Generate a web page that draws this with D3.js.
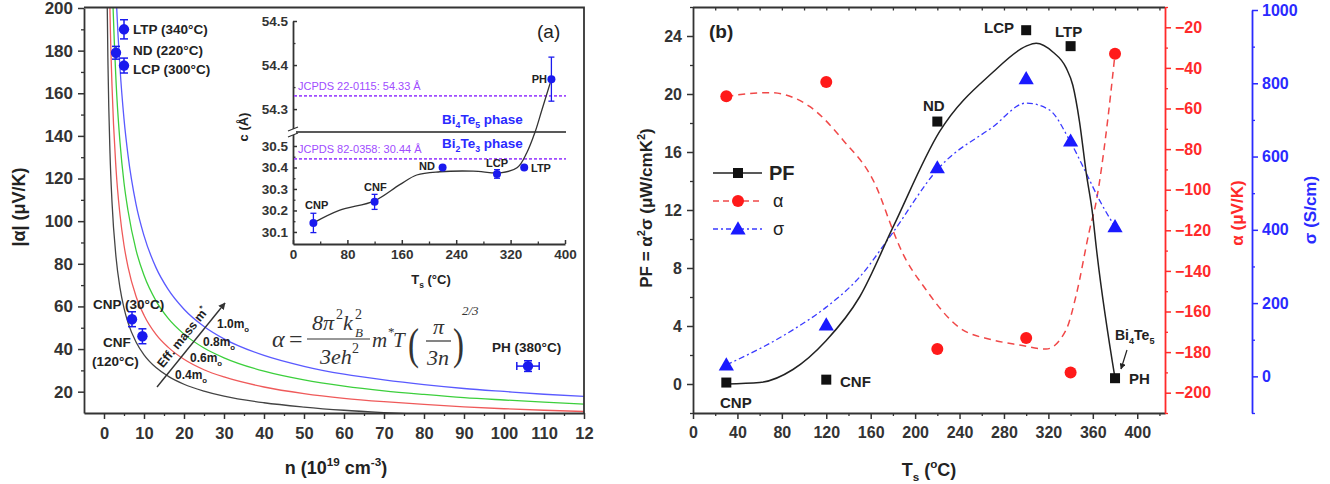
<!DOCTYPE html>
<html>
<head>
<meta charset="utf-8">
<script src="https://cdn.jsdelivr.net/npm/d3@7"></script>
<style>
  body { margin: 0; background: #fff; }
</style>
</head>
<body>
<div id="chart"></div>
<script>
// ---------- panel (a): Seebeck vs carrier concentration ----------
const nGrid = [0.5, 0.75, 1, 1.5, 2, 3, 4, 5, 6, 8, 10, 13, 16, 20, 25, 30, 40, 50, 60, 70, 80, 90, 100, 110, 120];
const alphaM04 = [275, 210, 173, 132, 109, 83.2, 68.7, 59.2, 52.4, 43.3, 37.3, 31.3, 27.3, 23.5, 20.3, 17.9, 14.8, 12.8, 11.3, 10.2, 9.3, 8.6, 8.0, 7.5, 7.1];
const alphaM06 = [412, 314, 260, 198, 163.5, 124.7, 103, 88.7, 78.6, 64.8, 55.9, 46.9, 40.9, 35.2, 30.3, 26.9, 22.2, 19.1, 16.9, 15.3, 14.0, 12.9, 12.0, 11.3, 10.7];
const alphaM08 = [550, 420, 346, 264, 218, 166, 137, 118, 105, 86.5, 74.6, 62.6, 54.5, 47.0, 40.5, 35.9, 29.6, 25.5, 22.6, 20.4, 18.7, 17.2, 16.1, 15.1, 14.2];
const alphaM10 = [687, 524, 433, 330, 273, 208, 172, 148, 131, 108, 93.2, 78.2, 68.1, 58.7, 50.6, 44.8, 37.0, 31.9, 28.2, 25.5, 23.3, 21.5, 20.1, 18.8, 17.8];
const massNames = ["0.4m", "0.6m", "0.8m", "1.0m"];

const samples = ["CNP", "CNF", "ND", "LCP", "LTP", "PH"];
const nSample = [7, 9.6, 3, 5, 5, 106];
const nSampleErr = [0, 0, 0, 0, 0, 2.8];
const alphaAbs = [54, 46, 179, 173, 190, 32];
const alphaAbsErr = [3.5, 3.5, 3, 3.5, 4.5, 2.5];

const nTicks = [0, 10, 20, 30, 40, 50, 60, 70, 80, 90, 100, 110, 120];
const nTickLabels = ["0", "10", "20", "30", "40", "50", "60", "70", "80", "90", "100", "110", "12"];
const alphaTicks = [20, 40, 60, 80, 100, 120, 140, 160, 180, 200];

// inset: c lattice parameter vs Ts
const insetTemps = [30, 120, 220, 300, 340, 380];
const cValues = [30.142, 30.24, 30.40, 30.37, 30.40, 54.368];
const cErr = [0.045, 0.035, 0.006, 0.02, 0.006, 0.05];
const cFitT = [30, 68, 120, 157, 182, 216, 265, 305, 330, 344, 356, 366, 380];
const cFitC = [30.142, 30.20, 30.245, 30.32, 30.365, 30.38, 30.383, 30.375, 30.40, 30.47, 30.565, 54.298, 54.368];
const jcpdsUpper = 54.33, jcpdsLower = 30.44;
const insetXTicks = [0, 80, 160, 240, 320, 400];
const insetLowTicks = [30.1, 30.2, 30.3, 30.4, 30.5];
const insetUpTicks = [54.3, 54.4, 54.5];

// ---------- panel (b): PF, alpha, sigma vs Ts ----------
const temps = [30, 120, 220, 300, 340, 380];
const pfValues = [0.1, 0.3, 18.1, 24.4, 23.3, 0.4];
const seebeck = [-54, -47, -178.5, -173, -190, -33];
const sigma = [31, 140, 569, 812, 642, 408];
const pfFitT = [30, 60, 90, 120, 150, 180, 222, 270, 300, 309, 324, 336, 342, 348, 354, 360, 363, 380];
const pfFit = [0, 0.1, 1.0, 3.0, 6.0, 10.8, 17.4, 21.5, 23.3, 23.5, 22.9, 21.8, 20.6, 18.1, 14.6, 11.6, 9.5, 0.4];
const seebeckFitT = [30, 69, 105, 135, 165, 180, 186, 210, 240, 270, 294, 318, 336, 345, 357, 363, 372, 380];
const seebeckFit = [-54, -52.2, -59, -75.5, -98.5, -120, -128, -149.4, -168, -174, -176.5, -178.5, -169, -152, -120, -106, -72, -33];
const sigmaFitT = [30, 90, 120, 150, 177, 222, 270, 300, 321, 339, 354, 366, 380];
const sigmaFit = [31, 127, 189, 271, 380, 571, 681, 746, 727, 645, 555, 481, 408];
const tsTicks = [0, 40, 80, 120, 160, 200, 240, 280, 320, 360, 400];
const pfTicks = [0, 4, 8, 12, 16, 20, 24];
const seebeckTicks = [-200, -180, -160, -140, -120, -100, -80, -60, -40, -20];
const sigmaTicks = [0, 200, 400, 600, 800, 1000];

const FONT = '"Liberation Sans", Arial, Helvetica, sans-serif';
const SERIF = '"Liberation Serif", "Times New Roman", serif';
const AX = "#333";
const RED = "#ff2a2a";
const BLUE = "#2a2aff";

const svg = d3.select("#chart").append("svg")
  .attr("width", 1330).attr("height", 484)
  .style("font-family", FONT);

// rich text: "T_{s} (^{o}C)"
function rich(g, x, y, spec, size, opts = {}) {
  const t = g.append("text")
    .attr("x", x).attr("y", y)
    .attr("font-size", size)
    .attr("font-weight", opts.weight || "bold")
    .attr("fill", opts.fill || "#222")
    .attr("text-anchor", opts.anchor || "start");
  if (opts.transform) t.attr("transform", opts.transform);
  if (opts.family) t.attr("font-family", opts.family);
  if (opts.italic) t.attr("font-style", "italic");
  let off = 0;
  spec.split(/(_\{[^}]*\}|\^\{[^}]*\})/).filter(s => s.length).forEach(p => {
    let kind = "n", txt = p;
    if (p.startsWith("_{")) { kind = "sub"; txt = p.slice(2, -1); }
    if (p.startsWith("^{")) { kind = "sup"; txt = p.slice(2, -1); }
    const target = kind === "sub" ? size * 0.3 : kind === "sup" ? -size * 0.42 : 0;
    t.append("tspan")
      .attr("dy", target - off)
      .attr("font-size", kind === "n" ? size : size * 0.65)
      .text(txt);
    off = target;
  });
  return t;
}

function styleAxis(g, color, size) {
  g.attr("font-family", FONT).attr("font-size", size).attr("font-weight", "bold");
  g.selectAll("path.domain").attr("stroke", color).attr("stroke-width", 1.8);
  g.selectAll(".tick line").attr("stroke", color).attr("stroke-width", 1.5);
  g.selectAll(".tick text").attr("fill", color);
}
function minor(g, color) {
  g.select("path.domain").remove();
  g.selectAll(".tick line").attr("stroke", color).attr("stroke-width", 1.3);
  g.selectAll(".tick text").remove();
}

// =================== PANEL (a) ===================
const xa = d3.scaleLinear().domain([-5, 120]).range([84, 584]);
const ya = d3.scaleLinear().domain([10, 200]).range([413, 8]);

svg.append("clipPath").attr("id", "clipA").append("rect")
  .attr("x", 84).attr("y", 8).attr("width", 500).attr("height", 405);

// theory curves
const massColors = ["#444", "#ef5a5a", "#3ccf3c", "#5a5aff"];
[alphaM04, alphaM06, alphaM08, alphaM10].forEach((vals, i) => {
  svg.append("path")
    .datum(nGrid.map((n, j) => [n, vals[j]]))
    .attr("clip-path", "url(#clipA)")
    .attr("fill", "none")
    .attr("stroke", massColors[i])
    .attr("stroke-width", 1.3)
    .attr("d", d3.line().x(d => xa(d[0])).y(d => ya(d[1])).curve(d3.curveMonotoneX));
});

// axes
let g = svg.append("g").attr("transform", "translate(0,413)")
  .call(d3.axisBottom(xa).tickValues(nTicks).tickFormat((d, i) => nTickLabels[i]).tickSize(6).tickSizeOuter(0).tickPadding(8));
styleAxis(g, AX, 16.5);
g = svg.append("g").attr("transform", "translate(0,413)")
  .call(d3.axisBottom(xa).tickValues(d3.range(5, 120, 10)).tickSize(3));
minor(g, AX);
g = svg.append("g").attr("transform", "translate(84,0)")
  .call(d3.axisLeft(ya).tickValues(alphaTicks).tickSize(6).tickSizeOuter(0).tickPadding(5));
styleAxis(g, AX, 17);
g = svg.append("g").attr("transform", "translate(84,0)")
  .call(d3.axisLeft(ya).tickValues(d3.range(30, 200, 20)).tickSize(3));
minor(g, AX);
// frame
svg.append("path").attr("d", `M84,7.5H584V413`).attr("fill", "none").attr("stroke", AX).attr("stroke-width", 1.8);

// axis titles
rich(svg, 0, 0, "|α| (μV/K)", 18, { anchor: "middle", transform: "translate(25,207) rotate(-90)" });
rich(svg, 336, 474, "n (10^{19} cm^{-3})", 18, { anchor: "middle" });

// sample points
const pts = samples.map((s, i) => ({ n: nSample[i], a: alphaAbs[i], ne: nSampleErr[i], ae: alphaAbsErr[i] }));
const ptG = svg.append("g").attr("stroke", "#1a1aee").attr("stroke-width", 1.5);
pts.forEach(p => {
  const cx = xa(p.n), cy = ya(p.a);
  const y1 = ya(p.a + p.ae), y2 = ya(p.a - p.ae);
  ptG.append("line").attr("x1", cx).attr("x2", cx).attr("y1", y1).attr("y2", y2);
  ptG.append("line").attr("x1", cx - 4).attr("x2", cx + 4).attr("y1", y1).attr("y2", y1);
  ptG.append("line").attr("x1", cx - 4).attr("x2", cx + 4).attr("y1", y2).attr("y2", y2);
  if (p.ne > 0) {
    const x1 = xa(p.n - p.ne), x2 = xa(p.n + p.ne);
    ptG.append("line").attr("x1", x1).attr("x2", x2).attr("y1", cy).attr("y2", cy);
    ptG.append("line").attr("x1", x1).attr("x2", x1).attr("y1", cy - 4).attr("y2", cy + 4);
    ptG.append("line").attr("x1", x2).attr("x2", x2).attr("y1", cy - 4).attr("y2", cy + 4);
  }
  svg.append("circle").attr("cx", cx).attr("cy", cy).attr("r", 5.2).attr("fill", "#1a1aee");
});

// sample labels
rich(svg, 133, 34, "LTP (340°C)", 13.5);
rich(svg, 133, 55, "ND (220°C)", 13.5);
rich(svg, 133, 74, "LCP (300°C)", 13.5);
rich(svg, 93, 309, "CNP (30°C)", 13.5);
rich(svg, 103, 347, "CNF", 13.5);
rich(svg, 92, 366, "(120°C)", 13.5);
rich(svg, 492, 352, "PH (380°C)", 13.5);

// effective mass arrow
const defs = svg.append("defs");
defs.append("marker").attr("id", "arrowHead").attr("viewBox", "0 0 10 10")
  .attr("refX", 9).attr("refY", 5).attr("markerWidth", 7).attr("markerHeight", 7)
  .attr("orient", "auto-start-reverse").attr("markerUnits", "userSpaceOnUse")
  .append("path").attr("d", "M0,0L10,5L0,10z").attr("fill", "#333");
defs.append("marker").attr("id", "arrowSmall").attr("viewBox", "0 0 10 10")
  .attr("refX", 9).attr("refY", 5).attr("markerWidth", 6).attr("markerHeight", 6)
  .attr("orient", "auto").attr("markerUnits", "userSpaceOnUse")
  .append("path").attr("d", "M0,0L10,5L0,10z").attr("fill", "#222");
svg.append("line").attr("x1", 157).attr("y1", 387).attr("x2", 225).attr("y2", 303)
  .attr("stroke", "#333").attr("stroke-width", 1.4).attr("marker-end", "url(#arrowHead)");
rich(svg, 0, 0, "Eff. mass m^{*}", 12.5, { anchor: "middle", transform: "translate(186,340) rotate(-51)" });
const massLabelPos = [[175, 379], [190, 362], [203, 346], [217, 328]];
massNames.forEach((m, i) => rich(svg, massLabelPos[i][0], massLabelPos[i][1], m + "_{o}", 12));

// formula
const fg = svg.append("g").attr("font-family", SERIF).attr("fill", "#333").attr("font-style", "italic");
const ft = (x, y, s, size, italic = true) => fg.append("text").attr("x", x).attr("y", y)
  .attr("font-size", size).attr("font-style", italic ? "italic" : "normal").text(s);
ft(272, 347, "α", 24);
ft(289, 347, "=", 24, false);
ft(312, 330, "8π", 22);
ft(336, 319, "2", 14, false);
ft(343, 330, "k", 22);
ft(355, 319, "2", 14, false);
ft(355, 337, "B", 13);
fg.append("line").attr("x1", 307).attr("x2", 370).attr("y1", 339).attr("y2", 339).attr("stroke", "#333").attr("stroke-width", 1.2);
ft(320, 364, "3eh", 22);
ft(352, 353, "2", 14, false);
ft(372, 347, "m", 21);
ft(388, 336, "*", 13, false);
ft(393, 347, "T", 21);
fg.append("text").attr("x", 408).attr("y", 359).attr("font-size", 44).attr("font-style", "normal")
  .attr("font-weight", 300).attr("transform", "translate(408,359) scale(0.75,1) translate(-408,-359)").text("(");
ft(433, 334, "π", 22);
fg.append("line").attr("x1", 426).attr("x2", 451).attr("y1", 341).attr("y2", 341).attr("stroke", "#333").attr("stroke-width", 1.2);
ft(427, 365, "3n", 22);
fg.append("text").attr("x", 453).attr("y", 359).attr("font-size", 44).attr("font-style", "normal")
  .attr("transform", "translate(453,359) scale(0.75,1) translate(-453,-359)").text(")");
ft(462, 315, "2/3", 13);

// ---------- inset ----------
const xi = d3.scaleLinear().domain([0, 400]).range([293, 565]);
const yLow = d3.scaleLinear().domain([30.044, 30.565]).range([244, 132]);
const yUp = d3.scaleLinear().domain([54.248, 54.5]).range([132, 21]);
const yc = c => c > 40 ? yUp(c) : yLow(c);

g = svg.append("g").attr("transform", "translate(0,244)")
  .call(d3.axisBottom(xi).tickValues(insetXTicks).tickSizeInner(-4).tickSizeOuter(0).tickPadding(5));
styleAxis(g, AX, 13.5);
g = svg.append("g").attr("transform", "translate(0,244)")
  .call(d3.axisBottom(xi).tickValues(d3.range(40, 400, 80)).tickSizeInner(-2.5));
minor(g, AX);
g = svg.append("g").attr("transform", "translate(293,0)")
  .call(d3.axisLeft(yLow).tickValues(insetLowTicks).tickFormat(d3.format(".1f")).tickSizeInner(-4).tickSizeOuter(0).tickPadding(5));
styleAxis(g, AX, 13.5);
g = svg.append("g").attr("transform", "translate(293,0)")
  .call(d3.axisLeft(yLow).tickValues([30.15, 30.25, 30.35, 30.45]).tickSizeInner(-2.5));
minor(g, AX);
g = svg.append("g").attr("transform", "translate(293,0)")
  .call(d3.axisLeft(yUp).tickValues(insetUpTicks).tickFormat(d3.format(".1f")).tickSizeInner(-4).tickSizeOuter(0).tickPadding(5));
styleAxis(g, AX, 13.5);
g = svg.append("g").attr("transform", "translate(293,0)")
  .call(d3.axisLeft(yUp).tickValues([54.35, 54.45]).tickSizeInner(-2.5));
minor(g, AX);
// break
svg.append("line").attr("x1", 293).attr("x2", 566).attr("y1", 132).attr("y2", 132).attr("stroke", "#222").attr("stroke-width", 1.4);
svg.append("rect").attr("x", 290).attr("y", 129).attr("width", 6).attr("height", 6).attr("fill", "#fff");
svg.append("path").attr("d", "M288,131L298,127M288,137L298,133").attr("stroke", AX).attr("stroke-width", 1.3);

// JCPDS reference lines
[[jcpdsUpper, yUp, "JCPDS 22-0115: 54.33 Å", 90], [jcpdsLower, yLow, "JCPDS 82-0358: 30.44 Å", 153]].forEach(r => {
  svg.append("line").attr("x1", 294).attr("x2", 566).attr("y1", r[1](r[0])).attr("y2", r[1](r[0]))
    .attr("stroke", "#a04cff").attr("stroke-width", 1.6).attr("stroke-dasharray", "3,2");
  rich(svg, 298, r[3], r[2], 11, { fill: "#a04cff", weight: "normal" });
});
rich(svg, 442, 124, "Bi_{4}Te_{5} phase", 13.5, { fill: BLUE });
rich(svg, 442, 148, "Bi_{2}Te_{3} phase", 13.5, { fill: BLUE });

// fit
svg.append("path")
  .datum(cFitT.map((t, i) => [xi(t), yc(cFitC[i])]))
  .attr("fill", "none").attr("stroke", "#333").attr("stroke-width", 1.3)
  .attr("d", d3.line().curve(d3.curveCatmullRom.alpha(0.5)));

// inset points
insetTemps.forEach((t, i) => {
  const cx = xi(t), cy = yc(cValues[i]);
  const y1 = yc(cValues[i] + cErr[i]), y2 = yc(cValues[i] - cErr[i]);
  const eg = svg.append("g").attr("stroke", "#1a1aee").attr("stroke-width", 1.3);
  eg.append("line").attr("x1", cx).attr("x2", cx).attr("y1", y1).attr("y2", y2);
  eg.append("line").attr("x1", cx - 3).attr("x2", cx + 3).attr("y1", y1).attr("y2", y1);
  eg.append("line").attr("x1", cx - 3).attr("x2", cx + 3).attr("y1", y2).attr("y2", y2);
  svg.append("circle").attr("cx", cx).attr("cy", cy).attr("r", 4).attr("fill", "#1a1aee");
});
rich(svg, 305, 209, "CNP", 11);
rich(svg, 364, 191, "CNF", 11);
rich(svg, 435, 170, "ND", 11, { anchor: "end" });
rich(svg, 486, 167, "LCP", 11);
rich(svg, 531, 172, "LTP", 11);
rich(svg, 547, 83, "PH", 11, { anchor: "end" });
rich(svg, 431, 284, "T_{s} (°C)", 13, { anchor: "middle" });
rich(svg, 0, 0, "c (Å)", 13, { anchor: "middle", transform: "translate(248,127) rotate(-90)" });
rich(svg, 537, 38, "(a)", 19, { weight: "normal" });

// =================== PANEL (b) ===================
const xb = d3.scaleLinear().domain([0, 425]).range([693, 1165]);
const yPF = d3.scaleLinear().domain([-2, 26]).range([413, 7]);
const yS = d3.scaleLinear().domain([-210, -10]).range([413, 7]);
const ySig = d3.scaleLinear().domain([-100, 1000]).range([413, 10]);

g = svg.append("g").attr("transform", "translate(0,413)")
  .call(d3.axisBottom(xb).tickValues(tsTicks).tickSize(6).tickSizeOuter(0).tickPadding(8));
styleAxis(g, AX, 16);
g = svg.append("g").attr("transform", "translate(0,413)")
  .call(d3.axisBottom(xb).tickValues(d3.range(20, 425, 40)).tickSize(3));
minor(g, AX);
// top frame with inward ticks
svg.append("line").attr("x1", 693).attr("x2", 1165).attr("y1", 7.5).attr("y2", 7.5).attr("stroke", AX).attr("stroke-width", 1.8);
g = svg.append("g").attr("transform", "translate(0,7.5)")
  .call(d3.axisTop(xb).tickValues(d3.range(20, 425, 20)).tickSize(-3));
minor(g, AX);

g = svg.append("g").attr("transform", "translate(693,0)")
  .call(d3.axisLeft(yPF).tickValues(pfTicks).tickSize(6).tickSizeOuter(0).tickPadding(5));
styleAxis(g, AX, 16);
g = svg.append("g").attr("transform", "translate(693,0)")
  .call(d3.axisLeft(yPF).tickValues([-2, 2, 6, 10, 14, 18, 22, 26]).tickSize(3));
minor(g, AX);

g = svg.append("g").attr("transform", "translate(1165,0)")
  .call(d3.axisRight(yS).tickValues(seebeckTicks).tickSize(6).tickSizeOuter(0).tickPadding(4));
styleAxis(g, RED, 16);
g = svg.append("g").attr("transform", "translate(1165,0)")
  .call(d3.axisRight(yS).tickValues(d3.range(-210, -9, 20)).tickSize(3));
minor(g, RED);

g = svg.append("g").attr("transform", "translate(1252,0)")
  .call(d3.axisRight(ySig).tickValues(sigmaTicks).tickFormat(d3.format("d")).tickSize(6).tickSizeOuter(0).tickPadding(4));
styleAxis(g, BLUE, 16);
g = svg.append("g").attr("transform", "translate(1252,0)")
  .call(d3.axisRight(ySig).tickValues(d3.range(-100, 1000, 200)).tickSize(3));
minor(g, BLUE);

// titles
rich(svg, 0, 0, "PF = α^{2}σ (μW/cmK^{2})", 17, { anchor: "middle", transform: "translate(652,208) rotate(-90)" });
rich(svg, 929, 476, "T_{s} (^{o}C)", 18, { anchor: "middle" });
rich(svg, 0, 0, "α (μV/K)", 17, { anchor: "middle", fill: RED, transform: "translate(1243,213) rotate(-90)" });
rich(svg, 0, 0, "σ (S/cm)", 17, { anchor: "middle", fill: BLUE, transform: "translate(1316,210) rotate(-90)" });

// fits
const lineB = (ys) => d3.line().x(d => xb(d[0])).y(d => ys(d[1])).curve(d3.curveMonotoneX);
svg.append("path").datum(seebeckFitT.map((t, i) => [t, seebeckFit[i]]))
  .attr("fill", "none").attr("stroke", "#f04848").attr("stroke-width", 1.5)
  .attr("stroke-dasharray", "7,5").attr("d", lineB(yS));
svg.append("path").datum(sigmaFitT.map((t, i) => [t, sigmaFit[i]]))
  .attr("fill", "none").attr("stroke", "#3a3aff").attr("stroke-width", 1.3)
  .attr("stroke-dasharray", "6,3,2,3").attr("d", lineB(ySig));
svg.append("path").datum(pfFitT.map((t, i) => [t, pfFit[i]]))
  .attr("fill", "none").attr("stroke", "#222").attr("stroke-width", 1.5)
  .attr("d", lineB(yPF));

// markers
const tri = d3.symbol(d3.symbolTriangle, 100);
temps.forEach((t, i) => {
  svg.append("circle").attr("cx", xb(t)).attr("cy", yS(seebeck[i])).attr("r", 6).attr("fill", "#ff1a1a");
  svg.append("path").attr("d", tri()).attr("transform", `translate(${xb(t)},${ySig(sigma[i]) + 1})`).attr("fill", "#1a1aff");
  svg.append("rect").attr("x", xb(t) - 5).attr("y", yPF(pfValues[i]) - 5).attr("width", 10).attr("height", 10).attr("fill", "#111");
});

// point labels
rich(svg, 984, 33, "LCP", 15);
rich(svg, 1055, 37, "LTP", 15);
rich(svg, 923, 111, "ND", 15);
rich(svg, 840, 387, "CNF", 15);
rich(svg, 720, 408, "CNP", 15);
rich(svg, 1129, 384, "PH", 15);
rich(svg, 1115, 340, "Bi_{4}Te_{5}", 14);
svg.append("line").attr("x1", 1127).attr("y1", 350).attr("x2", 1121).attr("y2", 369)
  .attr("stroke", "#222").attr("stroke-width", 1.2).attr("marker-end", "url(#arrowSmall)");
rich(svg, 709, 38, "(b)", 19);

// legend
const lg = svg.append("g");
lg.append("line").attr("x1", 713).attr("x2", 762).attr("y1", 173).attr("y2", 173).attr("stroke", "#222").attr("stroke-width", 1.5);
lg.append("rect").attr("x", 733).attr("y", 168).attr("width", 10).attr("height", 10).attr("fill", "#111");
rich(lg, 769, 180, "PF", 20);
lg.append("line").attr("x1", 713).attr("x2", 762).attr("y1", 201).attr("y2", 201).attr("stroke", "#f04848").attr("stroke-width", 1.5).attr("stroke-dasharray", "6,4");
lg.append("circle").attr("cx", 738).attr("cy", 201).attr("r", 6).attr("fill", "#ff1a1a");
rich(lg, 773, 207, "α", 18, { weight: "normal" });
lg.append("line").attr("x1", 713).attr("x2", 762).attr("y1", 229).attr("y2", 229).attr("stroke", "#3a3aff").attr("stroke-width", 1.3).attr("stroke-dasharray", "5,3,2,3");
lg.append("path").attr("d", tri()).attr("transform", "translate(738,230)").attr("fill", "#1a1aff");
rich(lg, 773, 235, "σ", 18, { weight: "normal" });
</script>
</body>
</html>
